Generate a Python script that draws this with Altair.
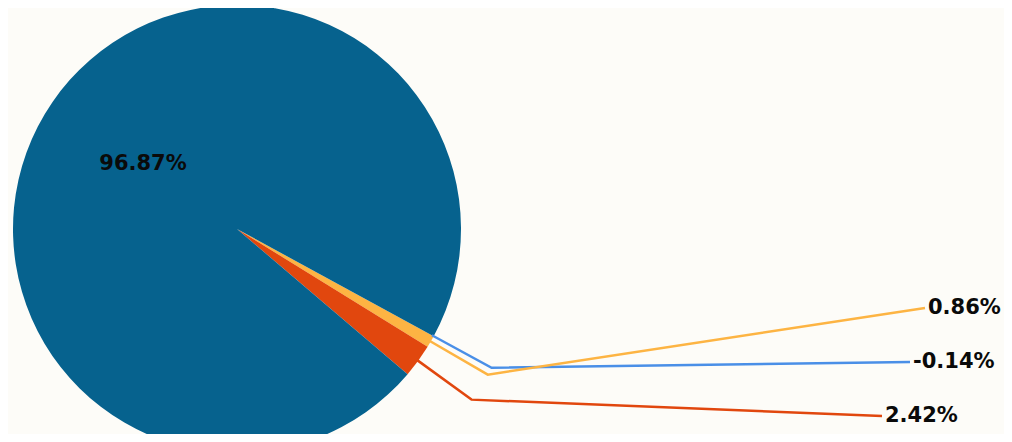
import altair as alt
import numpy as np
import pandas as pd

# ---- data ----
labels = ["-0.14%", "0.86%", "2.42%", "96.87%"]
values = [-0.14, 0.86, 2.42, 96.87]
colors = ["#4A8FE7", "#FDB443", "#E1470E", "#06628E"]

# ---- layout ----
W, H = 996, 426
CX, CY, R = 229, 221, 224
START_DEG = 118.6
ELBOW_R = 290
INNER_R = 114
# where each outside label's leader line ends (chart coords)
label_end_x = [902, 917, 874]
label_end_y = [354, 300, 408]

pos = np.clip(np.array(values, dtype=float), 0, None)
total = pos.sum()
cum = np.concatenate([[0], np.cumsum(pos)[:-1]])
start = START_DEG + cum / total * 360
mid = start + pos / total * 180


def pt(theta_deg, rad):
    t = np.deg2rad(theta_deg)
    return CX + rad * np.sin(t), CY - rad * np.cos(t)


pie_df = pd.DataFrame({"label": labels, "value": pos, "idx": range(len(labels))})

line_rows = []
for i in range(3):
    x0, y0 = pt(mid[i], R - 2)
    x1, y1 = pt(mid[i], ELBOW_R)
    line_rows += [
        {"label": labels[i], "step": 0, "x": x0, "y": y0},
        {"label": labels[i], "step": 1, "x": x1, "y": y1},
        {"label": labels[i], "step": 2, "x": label_end_x[i], "y": label_end_y[i]},
    ]
line_df = pd.DataFrame(line_rows)

outer_df = pd.DataFrame({"label": labels[:3], "x": label_end_x, "y": label_end_y})
ix, iy = pt(mid[3], INNER_R)
inner_df = pd.DataFrame({"label": [labels[3]], "x": [ix], "y": [iy]})

color_scale = alt.Scale(domain=labels, range=colors)
xs = alt.Scale(domain=[0, W], range=[0, W])
ys = alt.Scale(domain=[0, H], range=[0, H])
start_rad = np.deg2rad(START_DEG)

pie = alt.Chart(pie_df).mark_arc(outerRadius=R).encode(
    theta=alt.Theta("value:Q", stack=True,
                    scale=alt.Scale(range=[float(start_rad), float(start_rad + 2 * np.pi)])),
    color=alt.Color("label:N", scale=color_scale, legend=None),
    order=alt.Order("idx:Q", sort="ascending"),
    x=alt.value(CX),
    y=alt.value(CY),
)

lines = alt.Chart(line_df).mark_line(strokeWidth=2.5).encode(
    x=alt.X("x:Q", scale=xs, axis=None),
    y=alt.Y("y:Q", scale=ys, axis=None),
    color=alt.Color("label:N", scale=color_scale, legend=None),
    detail="label:N",
    order="step:Q",
)

font = "DejaVu Sans"
outer = alt.Chart(outer_df).mark_text(
    align="left", baseline="middle", dx=3, font=font, fontSize=21,
    fontWeight="bold", color="#0A0A0A",
).encode(
    x=alt.X("x:Q", scale=xs, axis=None),
    y=alt.Y("y:Q", scale=ys, axis=None),
    text="label:N",
)

inner = alt.Chart(inner_df).mark_text(
    align="center", baseline="middle", font=font, fontSize=21,
    fontWeight="bold", color="#0A0A0A",
).encode(
    x=alt.X("x:Q", scale=xs, axis=None),
    y=alt.Y("y:Q", scale=ys, axis=None),
    text="label:N",
)

chart = alt.layer(pie, lines, outer, inner).properties(
    width=W, height=H,
    autosize=alt.AutoSizeParams(type="none"),
    padding=0,
    background="#FDFCF8",
).configure_view(stroke=None)

chart.save("out.html", embed_options={"renderer": "svg", "actions": False})
